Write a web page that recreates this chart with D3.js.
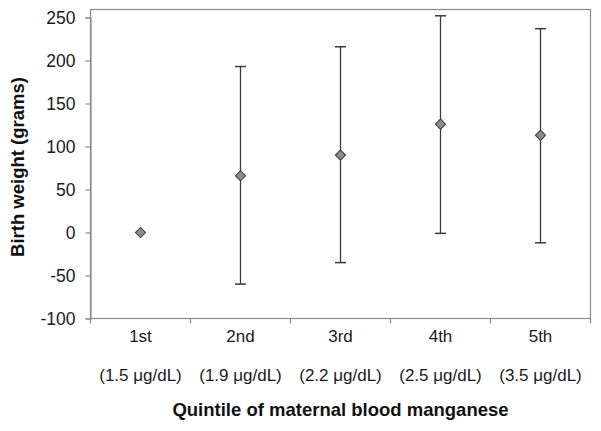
<!DOCTYPE html>
<html>
<head>
<meta charset="utf-8">
<script src="https://cdn.jsdelivr.net/npm/d3@7"></script>
<style>
  html, body { margin: 0; padding: 0; background: #fff; }
  svg { display: block; font-family: Arial, "Liberation Sans", sans-serif; }
</style>
</head>
<body>
<svg id="chart" width="601" height="431"></svg>
<script>
const categories = ["1st", "2nd", "3rd", "4th", "5th"];
const subLabels = ["(1.5 \u03BCg/dL)", "(1.9 \u03BCg/dL)", "(2.2 \u03BCg/dL)", "(2.5 \u03BCg/dL)", "(3.5 \u03BCg/dL)"];
const estimates = [0, 66, 90, 126, 113];
const lowerCI = [null, -60, -35, -1, -12];
const upperCI = [null, 193, 216, 252, 237];
const yTicks = [-100, -50, 0, 50, 100, 150, 200, 250];

const svg = d3.select("#chart");
const mLeft = 90.5, mRight = 590.5, mTop = 9.5, mBottom = 318.5;

const x = d3.scaleBand().domain(categories).range([mLeft, mRight]).padding(0);
const y = d3.scaleLinear().domain([-100, 250]).range([mBottom, 17.5]);

const axisColor = "#8a8a8a";
const textColor = "#1a1a1a";

// plot frame
svg.append("rect")
  .attr("x", mLeft).attr("y", mTop)
  .attr("width", mRight - mLeft).attr("height", mBottom - mTop)
  .attr("fill", "none").attr("stroke", axisColor).attr("stroke-width", 1.2);

// y axis
const yAxis = svg.append("g")
  .attr("transform", `translate(${mLeft},0)`)
  .call(d3.axisLeft(y).tickValues(yTicks).tickSize(5).tickPadding(10).tickFormat(d => String(d)));
yAxis.select(".domain").attr("stroke", axisColor).attr("stroke-width", 1.2);
yAxis.selectAll(".tick line").attr("stroke", axisColor).attr("stroke-width", 1.2);
yAxis.selectAll(".tick text").attr("fill", textColor).style("font-size", "17.5px").attr("dy", "0.36em")
  .style("font-family", "Arial, 'Liberation Sans', sans-serif");

// x axis: domain + boundary ticks
const xg = svg.append("g").attr("transform", `translate(0,${mBottom})`);
xg.append("line").attr("x1", mLeft).attr("x2", mRight).attr("y1", 0).attr("y2", 0)
  .attr("stroke", axisColor).attr("stroke-width", 1.2);
const boundaries = categories.map(c => x(c)).concat([x(categories[categories.length - 1]) + x.bandwidth()]);
xg.selectAll("line.bt").data(boundaries).join("line").attr("class", "bt")
  .attr("x1", d => d).attr("x2", d => d).attr("y1", 0).attr("y2", 5)
  .attr("stroke", axisColor).attr("stroke-width", 1.2);

const labels = svg.append("g");
labels.selectAll("text.cat").data(categories).join("text").attr("class", "cat")
  .attr("x", d => x(d) + x.bandwidth() / 2).attr("y", 342)
  .attr("text-anchor", "middle").attr("fill", textColor).style("font-size", "17px")
  .text(d => d);
labels.selectAll("text.sub").data(subLabels).join("text").attr("class", "sub")
  .attr("x", (d, i) => x(categories[i]) + x.bandwidth() / 2).attr("y", 381)
  .attr("text-anchor", "middle").attr("fill", textColor).style("font-size", "17px")
  .text(d => d);

// error bars
const data = categories.map((c, i) => ({ c, est: estimates[i], lo: lowerCI[i], hi: upperCI[i] }));
const eb = svg.append("g");
const withCI = data.filter(d => d.lo !== null);
const cx = d => x(d.c) + x.bandwidth() / 2;
eb.selectAll("line.v").data(withCI).join("line").attr("class", "v")
  .attr("x1", cx).attr("x2", cx).attr("y1", d => y(d.lo)).attr("y2", d => y(d.hi))
  .attr("stroke", "#3a3a3a").attr("stroke-width", 1.3);
eb.selectAll("line.capHi").data(withCI).join("line").attr("class", "capHi")
  .attr("x1", d => cx(d) - 5.5).attr("x2", d => cx(d) + 5.5)
  .attr("y1", d => y(d.hi)).attr("y2", d => y(d.hi))
  .attr("stroke", "#3a3a3a").attr("stroke-width", 1.5);
eb.selectAll("line.capLo").data(withCI).join("line").attr("class", "capLo")
  .attr("x1", d => cx(d) - 5.5).attr("x2", d => cx(d) + 5.5)
  .attr("y1", d => y(d.lo)).attr("y2", d => y(d.lo))
  .attr("stroke", "#3a3a3a").attr("stroke-width", 1.5);

// diamonds
const sym = d3.symbol().type(d3.symbolSquare).size(52);
svg.append("g").selectAll("path").data(data).join("path")
  .attr("d", sym)
  .attr("transform", d => `translate(${cx(d)},${y(d.est)}) rotate(45)`)
  .attr("fill", "#8c8c8c").attr("stroke", "#3a3a3a").attr("stroke-width", 1);

// axis titles
svg.append("text")
  .attr("transform", `translate(24,167) rotate(-90)`)
  .attr("text-anchor", "middle").attr("fill", "#111")
  .style("font-size", "18.5px").style("font-weight", "bold")
  .text("Birth weight (grams)");
svg.append("text")
  .attr("x", (mLeft + mRight) / 2).attr("y", 416)
  .attr("text-anchor", "middle").attr("fill", "#111")
  .style("font-size", "18.5px").style("font-weight", "bold")
  .text("Quintile of maternal blood manganese");
</script>
</body>
</html>
